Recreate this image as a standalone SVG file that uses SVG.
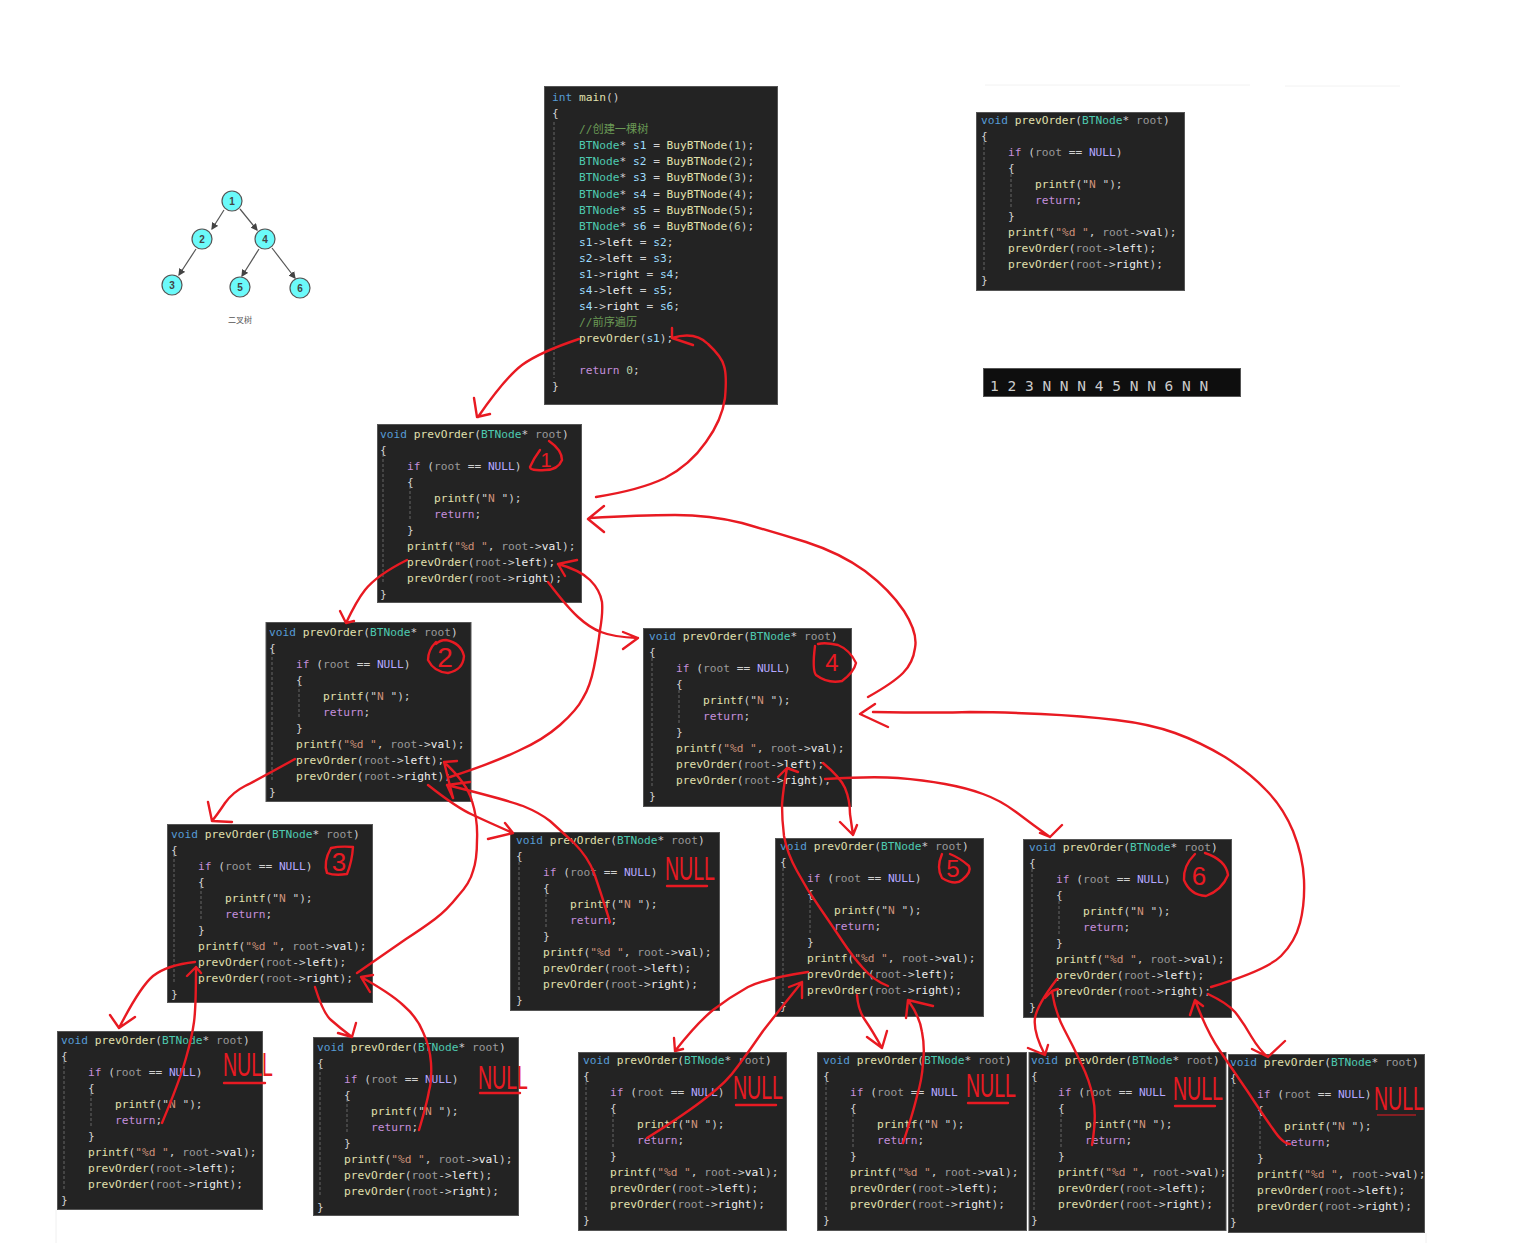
<svg xmlns="http://www.w3.org/2000/svg" width="1516" height="1243" viewBox="0 0 1516 1243">
<style>
.bg{fill:#232323;stroke:#555;stroke-width:1}
.c{font-family:"DejaVu Sans Mono","Liberation Mono","Noto Sans CJK SC",monospace;font-size:11.2px;fill:#d0d0d0}
.k{fill:#569cd6}.f{fill:#e0e0ae}.t{fill:#4ec9b0}.d{fill:#9a9a9a}.n{fill:#b4a7ff}.s{fill:#ce9178}.r{fill:#c58fdc}.v{fill:#eeeeee}.h{fill:#6a9955}.b{fill:#9cdcfe}.u{fill:#b5cea8}
.g{stroke:#666;stroke-width:1;stroke-dasharray:3 2;fill:none}
.red{fill:none;stroke:#e81a22;stroke-width:2.4;stroke-linecap:round;stroke-linejoin:round}
.nl{font-family:"Liberation Sans",Arial,sans-serif;font-size:34px;fill:#e81a22}
.cn{font-family:"Liberation Sans",Arial,sans-serif;fill:#e81a22;text-anchor:middle}
.tn{fill:#6bfafa;stroke:#555;stroke-width:1.2}
.tt{font-family:"Liberation Sans",Arial,sans-serif;font-size:10px;font-weight:bold;fill:#444;text-anchor:middle}
.tl{stroke:#555;stroke-width:1.2;fill:none;marker-end:url(#ah)}
</style>
<defs>
<marker id="ah" markerWidth="6" markerHeight="6" refX="5" refY="3" orient="auto"><path d="M0 0L6 3L0 6z" fill="#444"/></marker>
</defs>
<rect width="1516" height="1243" fill="#fff"/>
<path d="M985 85H1250M1285 86H1400" stroke="#f2f2f2" fill="none"/>
<path d="M56 1210V1243M1426 1233V1243" stroke="#f0f0f0" fill="none"/>

<g id="tree">
<g id="t1"><circle class="tn" cx="232" cy="201" r="10"/><text class="tt" x="232" y="205">1</text></g>
<g id="t2"><circle class="tn" cx="202" cy="239" r="10"/><text class="tt" x="202" y="243">2</text></g>
<g id="t4"><circle class="tn" cx="265" cy="239" r="10"/><text class="tt" x="265" y="243">4</text></g>
<g id="t3"><circle class="tn" cx="172" cy="285" r="10"/><text class="tt" x="172" y="289">3</text></g>
<g id="t5"><circle class="tn" cx="240" cy="287" r="10"/><text class="tt" x="240" y="291">5</text></g>
<g id="t6"><circle class="tn" cx="300" cy="288" r="10"/><text class="tt" x="300" y="292">6</text></g>
<text x="240" y="323" text-anchor="middle" style="font-family:'Noto Sans CJK SC',sans-serif;font-size:8px;fill:#555">二叉树</text>
</g>

<g id="main">
<rect class="bg" x="544.5" y="86.5" width="233" height="318"/>
<path class="g" d="M554 122V378"/>
<g class="c">
<text x="552" y="101"><tspan class="k">int</tspan> <tspan class="f">main</tspan>()</text>
<text x="552" y="117">{</text>
<text class="h" x="579" y="133">//创建一棵树</text>
<text x="579" y="149"><tspan class="t">BTNode</tspan>* <tspan class="b">s1</tspan> = <tspan class="f">BuyBTNode</tspan>(<tspan class="u">1</tspan>);</text>
<text x="579" y="165"><tspan class="t">BTNode</tspan>* <tspan class="b">s2</tspan> = <tspan class="f">BuyBTNode</tspan>(<tspan class="u">2</tspan>);</text>
<text x="579" y="181"><tspan class="t">BTNode</tspan>* <tspan class="b">s3</tspan> = <tspan class="f">BuyBTNode</tspan>(<tspan class="u">3</tspan>);</text>
<text x="579" y="198"><tspan class="t">BTNode</tspan>* <tspan class="b">s4</tspan> = <tspan class="f">BuyBTNode</tspan>(<tspan class="u">4</tspan>);</text>
<text x="579" y="214"><tspan class="t">BTNode</tspan>* <tspan class="b">s5</tspan> = <tspan class="f">BuyBTNode</tspan>(<tspan class="u">5</tspan>);</text>
<text x="579" y="230"><tspan class="t">BTNode</tspan>* <tspan class="b">s6</tspan> = <tspan class="f">BuyBTNode</tspan>(<tspan class="u">6</tspan>);</text>
<text x="579" y="246"><tspan class="b">s1</tspan>-&gt;<tspan class="v">left</tspan> = <tspan class="b">s2</tspan>;</text>
<text x="579" y="262"><tspan class="b">s2</tspan>-&gt;<tspan class="v">left</tspan> = <tspan class="b">s3</tspan>;</text>
<text x="579" y="278"><tspan class="b">s1</tspan>-&gt;<tspan class="v">right</tspan> = <tspan class="b">s4</tspan>;</text>
<text x="579" y="294"><tspan class="b">s4</tspan>-&gt;<tspan class="v">left</tspan> = <tspan class="b">s5</tspan>;</text>
<text x="579" y="310"><tspan class="b">s4</tspan>-&gt;<tspan class="v">right</tspan> = <tspan class="b">s6</tspan>;</text>
<text class="h" x="579" y="326">//前序遍历</text>
<text x="579" y="342"><tspan class="f">prevOrder</tspan>(<tspan class="b">s1</tspan>);</text>
<text x="579" y="374"><tspan class="r">return</tspan> <tspan class="u">0</tspan>;</text>
<text x="552" y="390">}</text>
</g>
</g>

<g id="legend" class="c" transform="translate(981,112)">
<rect class="bg" x="-4.5" y="0.5" width="208" height="178"/>
<path class="g" d="M3 30V160M30 62V96"/>
<text y="12"><tspan class="k">void</tspan> <tspan class="f">prevOrder</tspan>(<tspan class="t">BTNode</tspan>* <tspan class="d">root</tspan>)</text>
<text y="28">{</text>
<text x="27" y="44"><tspan class="r">if</tspan> (<tspan class="d">root</tspan> == <tspan class="n">NULL</tspan>)</text>
<text x="27" y="60">{</text>
<text x="54" y="76"><tspan class="f">printf</tspan>("<tspan class="s">N </tspan>");</text>
<text x="54" y="92"><tspan class="r">return</tspan>;</text>
<text x="27" y="108">}</text>
<text x="27" y="124"><tspan class="f">printf</tspan>(<tspan class="s">"%d "</tspan>, <tspan class="d">root</tspan>-&gt;<tspan class="v">val</tspan>);</text>
<text x="27" y="140"><tspan class="f">prevOrder</tspan>(<tspan class="d">root</tspan>-&gt;<tspan class="v">left</tspan>);</text>
<text x="27" y="156"><tspan class="f">prevOrder</tspan>(<tspan class="d">root</tspan>-&gt;<tspan class="v">right</tspan>);</text>
<text y="172">}</text>
</g>

<g id="console">
<rect x="983.5" y="368.5" width="257" height="28" fill="#0e0e0e" stroke="#555"/>
<text x="990" y="391" style="font-family:'DejaVu Sans Mono',monospace;font-size:14.5px;fill:#cccccc">1 2 3 N N N 4 5 N N 6 N N</text>
</g>

<g id="n1" class="c" transform="translate(380,424)">
<rect class="bg" x="-2.5" y="0.5" width="204" height="178"/>
<path class="g" d="M3 30V160M30 62V96"/>
<text y="14"><tspan class="k">void</tspan> <tspan class="f">prevOrder</tspan>(<tspan class="t">BTNode</tspan>* <tspan class="d">root</tspan>)</text>
<text y="30">{</text>
<text x="27" y="46"><tspan class="r">if</tspan> (<tspan class="d">root</tspan> == <tspan class="n">NULL</tspan>)</text>
<text x="27" y="62">{</text>
<text x="54" y="78"><tspan class="f">printf</tspan>("<tspan class="s">N </tspan>");</text>
<text x="54" y="94"><tspan class="r">return</tspan>;</text>
<text x="27" y="110">}</text>
<text x="27" y="126"><tspan class="f">printf</tspan>(<tspan class="s">"%d "</tspan>, <tspan class="d">root</tspan>-&gt;<tspan class="v">val</tspan>);</text>
<text x="27" y="142"><tspan class="f">prevOrder</tspan>(<tspan class="d">root</tspan>-&gt;<tspan class="v">left</tspan>);</text>
<text x="27" y="158"><tspan class="f">prevOrder</tspan>(<tspan class="d">root</tspan>-&gt;<tspan class="v">right</tspan>);</text>
<text y="174">}</text>
</g>

<g id="n2" class="c" transform="translate(269,622)">
<rect class="bg" x="-3" y="0.5" width="205" height="179"/>
<path class="g" d="M3 30V160M30 62V96"/>
<text y="14"><tspan class="k">void</tspan> <tspan class="f">prevOrder</tspan>(<tspan class="t">BTNode</tspan>* <tspan class="d">root</tspan>)</text>
<text y="30">{</text>
<text x="27" y="46"><tspan class="r">if</tspan> (<tspan class="d">root</tspan> == <tspan class="n">NULL</tspan>)</text>
<text x="27" y="62">{</text>
<text x="54" y="78"><tspan class="f">printf</tspan>("<tspan class="s">N </tspan>");</text>
<text x="54" y="94"><tspan class="r">return</tspan>;</text>
<text x="27" y="110">}</text>
<text x="27" y="126"><tspan class="f">printf</tspan>(<tspan class="s">"%d "</tspan>, <tspan class="d">root</tspan>-&gt;<tspan class="v">val</tspan>);</text>
<text x="27" y="142"><tspan class="f">prevOrder</tspan>(<tspan class="d">root</tspan>-&gt;<tspan class="v">left</tspan>);</text>
<text x="27" y="158"><tspan class="f">prevOrder</tspan>(<tspan class="d">root</tspan>-&gt;<tspan class="v">right</tspan>);</text>
<text y="174">}</text>
</g>

<g id="n4" class="c" transform="translate(649,628)">
<rect class="bg" x="-5.5" y="0.5" width="208" height="178"/>
<path class="g" d="M3 30V160M30 62V96"/>
<text y="12"><tspan class="k">void</tspan> <tspan class="f">prevOrder</tspan>(<tspan class="t">BTNode</tspan>* <tspan class="d">root</tspan>)</text>
<text y="28">{</text>
<text x="27" y="44"><tspan class="r">if</tspan> (<tspan class="d">root</tspan> == <tspan class="n">NULL</tspan>)</text>
<text x="27" y="60">{</text>
<text x="54" y="76"><tspan class="f">printf</tspan>("<tspan class="s">N </tspan>");</text>
<text x="54" y="92"><tspan class="r">return</tspan>;</text>
<text x="27" y="108">}</text>
<text x="27" y="124"><tspan class="f">printf</tspan>(<tspan class="s">"%d "</tspan>, <tspan class="d">root</tspan>-&gt;<tspan class="v">val</tspan>);</text>
<text x="27" y="140"><tspan class="f">prevOrder</tspan>(<tspan class="d">root</tspan>-&gt;<tspan class="v">left</tspan>);</text>
<text x="27" y="156"><tspan class="f">prevOrder</tspan>(<tspan class="d">root</tspan>-&gt;<tspan class="v">right</tspan>);</text>
<text y="172">}</text>
</g>

<g id="n3" class="c" transform="translate(171,824)">
<rect class="bg" x="-3.5" y="0.5" width="205" height="178"/>
<path class="g" d="M3 30V160M30 62V96"/>
<text y="14"><tspan class="k">void</tspan> <tspan class="f">prevOrder</tspan>(<tspan class="t">BTNode</tspan>* <tspan class="d">root</tspan>)</text>
<text y="30">{</text>
<text x="27" y="46"><tspan class="r">if</tspan> (<tspan class="d">root</tspan> == <tspan class="n">NULL</tspan>)</text>
<text x="27" y="62">{</text>
<text x="54" y="78"><tspan class="f">printf</tspan>("<tspan class="s">N </tspan>");</text>
<text x="54" y="94"><tspan class="r">return</tspan>;</text>
<text x="27" y="110">}</text>
<text x="27" y="126"><tspan class="f">printf</tspan>(<tspan class="s">"%d "</tspan>, <tspan class="d">root</tspan>-&gt;<tspan class="v">val</tspan>);</text>
<text x="27" y="142"><tspan class="f">prevOrder</tspan>(<tspan class="d">root</tspan>-&gt;<tspan class="v">left</tspan>);</text>
<text x="27" y="158"><tspan class="f">prevOrder</tspan>(<tspan class="d">root</tspan>-&gt;<tspan class="v">right</tspan>);</text>
<text y="174">}</text>
</g>

<g id="n3l" class="c" transform="translate(61,1031)">
<rect class="bg" x="-3.5" y="0.5" width="205" height="178"/>
<path class="g" d="M3 30V160M30 62V96"/>
<text y="13"><tspan class="k">void</tspan> <tspan class="f">prevOrder</tspan>(<tspan class="t">BTNode</tspan>* <tspan class="d">root</tspan>)</text>
<text y="29">{</text>
<text x="27" y="45"><tspan class="r">if</tspan> (<tspan class="d">root</tspan> == <tspan class="n">NULL</tspan>)</text>
<text x="27" y="61">{</text>
<text x="54" y="77"><tspan class="f">printf</tspan>("<tspan class="s">N </tspan>");</text>
<text x="54" y="93"><tspan class="r">return</tspan>;</text>
<text x="27" y="109">}</text>
<text x="27" y="125"><tspan class="f">printf</tspan>(<tspan class="s">"%d "</tspan>, <tspan class="d">root</tspan>-&gt;<tspan class="v">val</tspan>);</text>
<text x="27" y="141"><tspan class="f">prevOrder</tspan>(<tspan class="d">root</tspan>-&gt;<tspan class="v">left</tspan>);</text>
<text x="27" y="157"><tspan class="f">prevOrder</tspan>(<tspan class="d">root</tspan>-&gt;<tspan class="v">right</tspan>);</text>
<text y="173">}</text>
</g>

<g id="n3r" class="c" transform="translate(317,1037)">
<rect class="bg" x="-3.5" y="0.5" width="205" height="178"/>
<path class="g" d="M3 30V160M30 62V96"/>
<text y="14"><tspan class="k">void</tspan> <tspan class="f">prevOrder</tspan>(<tspan class="t">BTNode</tspan>* <tspan class="d">root</tspan>)</text>
<text y="30">{</text>
<text x="27" y="46"><tspan class="r">if</tspan> (<tspan class="d">root</tspan> == <tspan class="n">NULL</tspan>)</text>
<text x="27" y="62">{</text>
<text x="54" y="78"><tspan class="f">printf</tspan>("<tspan class="s">N </tspan>");</text>
<text x="54" y="94"><tspan class="r">return</tspan>;</text>
<text x="27" y="110">}</text>
<text x="27" y="126"><tspan class="f">printf</tspan>(<tspan class="s">"%d "</tspan>, <tspan class="d">root</tspan>-&gt;<tspan class="v">val</tspan>);</text>
<text x="27" y="142"><tspan class="f">prevOrder</tspan>(<tspan class="d">root</tspan>-&gt;<tspan class="v">left</tspan>);</text>
<text x="27" y="158"><tspan class="f">prevOrder</tspan>(<tspan class="d">root</tspan>-&gt;<tspan class="v">right</tspan>);</text>
<text y="174">}</text>
</g>

<g id="n2r" class="c" transform="translate(516,832)">
<rect class="bg" x="-5.5" y="0.5" width="209" height="178"/>
<path class="g" d="M3 30V160M30 62V96"/>
<text y="12"><tspan class="k">void</tspan> <tspan class="f">prevOrder</tspan>(<tspan class="t">BTNode</tspan>* <tspan class="d">root</tspan>)</text>
<text y="28">{</text>
<text x="27" y="44"><tspan class="r">if</tspan> (<tspan class="d">root</tspan> == <tspan class="n">NULL</tspan>)</text>
<text x="27" y="60">{</text>
<text x="54" y="76"><tspan class="f">printf</tspan>("<tspan class="s">N </tspan>");</text>
<text x="54" y="92"><tspan class="r">return</tspan>;</text>
<text x="27" y="108">}</text>
<text x="27" y="124"><tspan class="f">printf</tspan>(<tspan class="s">"%d "</tspan>, <tspan class="d">root</tspan>-&gt;<tspan class="v">val</tspan>);</text>
<text x="27" y="140"><tspan class="f">prevOrder</tspan>(<tspan class="d">root</tspan>-&gt;<tspan class="v">left</tspan>);</text>
<text x="27" y="156"><tspan class="f">prevOrder</tspan>(<tspan class="d">root</tspan>-&gt;<tspan class="v">right</tspan>);</text>
<text y="172">}</text>
</g>

<g id="n5" class="c" transform="translate(780,838)">
<rect class="bg" x="-4.5" y="0.5" width="208" height="178"/>
<path class="g" d="M3 30V160M30 62V96"/>
<text y="12"><tspan class="k">void</tspan> <tspan class="f">prevOrder</tspan>(<tspan class="t">BTNode</tspan>* <tspan class="d">root</tspan>)</text>
<text y="28">{</text>
<text x="27" y="44"><tspan class="r">if</tspan> (<tspan class="d">root</tspan> == <tspan class="n">NULL</tspan>)</text>
<text x="27" y="60">{</text>
<text x="54" y="76"><tspan class="f">printf</tspan>("<tspan class="s">N </tspan>");</text>
<text x="54" y="92"><tspan class="r">return</tspan>;</text>
<text x="27" y="108">}</text>
<text x="27" y="124"><tspan class="f">printf</tspan>(<tspan class="s">"%d "</tspan>, <tspan class="d">root</tspan>-&gt;<tspan class="v">val</tspan>);</text>
<text x="27" y="140"><tspan class="f">prevOrder</tspan>(<tspan class="d">root</tspan>-&gt;<tspan class="v">left</tspan>);</text>
<text x="27" y="156"><tspan class="f">prevOrder</tspan>(<tspan class="d">root</tspan>-&gt;<tspan class="v">right</tspan>);</text>
<text y="172">}</text>
</g>

<g id="n5l" class="c" transform="translate(583,1052)">
<rect class="bg" x="-4.5" y="0.5" width="208" height="178"/>
<path class="g" d="M3 30V160M30 62V96"/>
<text y="12"><tspan class="k">void</tspan> <tspan class="f">prevOrder</tspan>(<tspan class="t">BTNode</tspan>* <tspan class="d">root</tspan>)</text>
<text y="28">{</text>
<text x="27" y="44"><tspan class="r">if</tspan> (<tspan class="d">root</tspan> == <tspan class="n">NULL</tspan>)</text>
<text x="27" y="60">{</text>
<text x="54" y="76"><tspan class="f">printf</tspan>("<tspan class="s">N </tspan>");</text>
<text x="54" y="92"><tspan class="r">return</tspan>;</text>
<text x="27" y="108">}</text>
<text x="27" y="124"><tspan class="f">printf</tspan>(<tspan class="s">"%d "</tspan>, <tspan class="d">root</tspan>-&gt;<tspan class="v">val</tspan>);</text>
<text x="27" y="140"><tspan class="f">prevOrder</tspan>(<tspan class="d">root</tspan>-&gt;<tspan class="v">left</tspan>);</text>
<text x="27" y="156"><tspan class="f">prevOrder</tspan>(<tspan class="d">root</tspan>-&gt;<tspan class="v">right</tspan>);</text>
<text y="172">}</text>
</g>

<g id="n5r" class="c" transform="translate(823,1052)">
<rect class="bg" x="-5.5" y="0.5" width="209" height="178"/>
<path class="g" d="M3 30V160M30 62V96"/>
<text y="12"><tspan class="k">void</tspan> <tspan class="f">prevOrder</tspan>(<tspan class="t">BTNode</tspan>* <tspan class="d">root</tspan>)</text>
<text y="28">{</text>
<text x="27" y="44"><tspan class="r">if</tspan> (<tspan class="d">root</tspan> == <tspan class="n">NULL</tspan></text>
<text x="27" y="60">{</text>
<text x="54" y="76"><tspan class="f">printf</tspan>("<tspan class="s">N </tspan>");</text>
<text x="54" y="92"><tspan class="r">return</tspan>;</text>
<text x="27" y="108">}</text>
<text x="27" y="124"><tspan class="f">printf</tspan>(<tspan class="s">"%d "</tspan>, <tspan class="d">root</tspan>-&gt;<tspan class="v">val</tspan>);</text>
<text x="27" y="140"><tspan class="f">prevOrder</tspan>(<tspan class="d">root</tspan>-&gt;<tspan class="v">left</tspan>);</text>
<text x="27" y="156"><tspan class="f">prevOrder</tspan>(<tspan class="d">root</tspan>-&gt;<tspan class="v">right</tspan>);</text>
<text y="172">}</text>
</g>

<g id="n6" class="c" transform="translate(1029,839)">
<rect class="bg" x="-5.5" y="0.5" width="208" height="178"/>
<path class="g" d="M3 30V160M30 62V96"/>
<text y="12"><tspan class="k">void</tspan> <tspan class="f">prevOrder</tspan>(<tspan class="t">BTNode</tspan>* <tspan class="d">root</tspan>)</text>
<text y="28">{</text>
<text x="27" y="44"><tspan class="r">if</tspan> (<tspan class="d">root</tspan> == <tspan class="n">NULL</tspan>)</text>
<text x="27" y="60">{</text>
<text x="54" y="76"><tspan class="f">printf</tspan>("<tspan class="s">N </tspan>");</text>
<text x="54" y="92"><tspan class="r">return</tspan>;</text>
<text x="27" y="108">}</text>
<text x="27" y="124"><tspan class="f">printf</tspan>(<tspan class="s">"%d "</tspan>, <tspan class="d">root</tspan>-&gt;<tspan class="v">val</tspan>);</text>
<text x="27" y="140"><tspan class="f">prevOrder</tspan>(<tspan class="d">root</tspan>-&gt;<tspan class="v">left</tspan>);</text>
<text x="27" y="156"><tspan class="f">prevOrder</tspan>(<tspan class="d">root</tspan>-&gt;<tspan class="v">right</tspan>);</text>
<text y="172">}</text>
</g>

<g id="n6l" class="c" transform="translate(1031,1052)">
<rect class="bg" x="-2" y="0.5" width="197" height="178"/>
<path class="g" d="M3 30V160M30 62V96"/>
<text y="12"><tspan class="k">void</tspan> <tspan class="f">prevOrder</tspan>(<tspan class="t">BTNode</tspan>* <tspan class="d">root</tspan>)</text>
<text y="28">{</text>
<text x="27" y="44"><tspan class="r">if</tspan> (<tspan class="d">root</tspan> == <tspan class="n">NULL</tspan></text>
<text x="27" y="60">{</text>
<text x="54" y="76"><tspan class="f">printf</tspan>("<tspan class="s">N </tspan>");</text>
<text x="54" y="92"><tspan class="r">return</tspan>;</text>
<text x="27" y="108">}</text>
<text x="27" y="124"><tspan class="f">printf</tspan>(<tspan class="s">"%d "</tspan>, <tspan class="d">root</tspan>-&gt;<tspan class="v">val</tspan>);</text>
<text x="27" y="140"><tspan class="f">prevOrder</tspan>(<tspan class="d">root</tspan>-&gt;<tspan class="v">left</tspan>);</text>
<text x="27" y="156"><tspan class="f">prevOrder</tspan>(<tspan class="d">root</tspan>-&gt;<tspan class="v">right</tspan>);</text>
<text y="172">}</text>
</g>

<g id="n6r" class="c" transform="translate(1230,1054)">
<rect class="bg" x="-1.5" y="0.5" width="196" height="178"/>
<path class="g" d="M3 30V160M30 62V96"/>
<text y="12"><tspan class="k">void</tspan> <tspan class="f">prevOrder</tspan>(<tspan class="t">BTNode</tspan>* <tspan class="d">root</tspan>)</text>
<text y="28">{</text>
<text x="27" y="44"><tspan class="r">if</tspan> (<tspan class="d">root</tspan> == <tspan class="n">NULL</tspan>)</text>
<text x="27" y="60">{</text>
<text x="54" y="76"><tspan class="f">printf</tspan>("<tspan class="s">N </tspan>");</text>
<text x="54" y="92"><tspan class="r">return</tspan>;</text>
<text x="27" y="108">}</text>
<text x="27" y="124"><tspan class="f">printf</tspan>(<tspan class="s">"%d "</tspan>, <tspan class="d">root</tspan>-&gt;<tspan class="v">val</tspan>);</text>
<text x="27" y="140"><tspan class="f">prevOrder</tspan>(<tspan class="d">root</tspan>-&gt;<tspan class="v">left</tspan>);</text>
<text x="27" y="156"><tspan class="f">prevOrder</tspan>(<tspan class="d">root</tspan>-&gt;<tspan class="v">right</tspan>);</text>
<text y="172">}</text>
</g>

<g id="annotations">
<text class="nl" x="223" y="1076" textLength="50" lengthAdjust="spacingAndGlyphs">NULL</text>
<text class="nl" x="478" y="1089" textLength="50" lengthAdjust="spacingAndGlyphs">NULL</text>
<text class="nl" x="665" y="880" textLength="50" lengthAdjust="spacingAndGlyphs">NULL</text>
<text class="nl" x="733" y="1099" textLength="50" lengthAdjust="spacingAndGlyphs">NULL</text>
<text class="nl" x="966" y="1097" textLength="50" lengthAdjust="spacingAndGlyphs">NULL</text>
<text class="nl" x="1173" y="1100" textLength="50" lengthAdjust="spacingAndGlyphs">NULL</text>
<text class="nl" x="1374" y="1110" textLength="50" lengthAdjust="spacingAndGlyphs">NULL</text>
<path class="red" d="M224 1083H265M480 1093H520M667 886H707M736 1105H776M968 1103H1008M1175 1106H1215"/>
<path d="M1377 1115H1416" stroke="#e81a22" fill="none"/>
<text class="cn" x="546" y="467" font-size="20">1</text>
<path class="red" d="M549 441Q562 450 562 460Q558 470 545 470Q530 471 530 467Q534 458 540 450"/>
<text class="cn" x="445" y="667" font-size="28">2</text>
<path class="red" d="M436 642Q428 650 428 660Q434 672 448 673Q463 670 464 656Q461 643 446 640Q440 640 436 644"/>
<text class="cn" x="339" y="871" font-size="26">3</text>
<path class="red" d="M331 848Q340 846 353 847Q352 862 347 874Q335 876 327 873Q323 862 331 848"/>
<text class="cn" x="832" y="671" font-size="24">4</text>
<path class="red" d="M815 646Q812 670 816 675Q828 684 842 681Q854 672 856 663Q850 650 838 645Q825 642 818 644"/>
<text class="cn" x="953" y="877" font-size="24">5</text>
<path class="red" d="M942 854Q936 868 942 878Q955 886 962 880Q972 872 969 866Q960 858 950 854"/>
<text class="cn" x="1199" y="885" font-size="26">6</text>
<path class="red" d="M1195 854Q1183 866 1184 880Q1190 895 1206 896Q1222 890 1228 875Q1226 860 1205 853"/>
</g>

<g id="connectors">
<path class="tl" d="M224 210L212 229"/>
<path class="tl" d="M240 209L257 230"/>
<path class="tl" d="M196 249L179 275"/>
<path class="tl" d="M259 249L242 276"/>
<path class="tl" d="M272 248L295 278"/>
<path class="red" d="M579 339Q540 352 522 365Q505 378 478 417M474 398L477 417L490 414"/>
<path class="red" d="M672 338Q695 331 708 344Q722 357 724 366Q727 375 725 398Q722 420 706 442Q690 465 665 478Q640 490 596 497M672 328L672 338L693 345"/>
<path class="red" d="M590 518Q640 515 675 515Q710 515 742 523Q773 532 806 542Q840 553 865 571Q890 590 904 611Q918 633 915 648Q913 663 903 673Q893 683 868 697M604 506L588 519L604 532"/>
<path class="red" d="M407 560Q377 575 365 590Q357 600 346 623M340 611L346 623L354 621"/>
<path class="red" d="M548 582Q567 607 578 617Q590 628 601 632Q613 637 638 638M623 632L638 638L623 649"/>
<path class="red" d="M558 564Q580 570 590 580Q600 590 602 602Q603 613 600 630Q598 647 594 667Q590 687 583 698Q577 710 560 725Q543 740 518 751Q493 763 450 777M577 560L558 564L565 576"/>
<path class="red" d="M295 759Q257 780 245 786Q233 792 225 803Q217 815 212 821M208 802L212 821L232 822"/>
<path class="red" d="M428 785Q457 808 473 815Q490 823 513 833M505 823L513 833L488 839"/>
<path class="red" d="M447 785Q507 800 523 806Q540 813 550 821Q560 830 574 843Q588 857 594 873Q600 890 610 922M470 782L447 785L453 798"/>
<path class="red" d="M444 762Q467 783 472 801Q478 820 477 840Q477 860 473 871Q470 883 458 896Q447 910 435 919Q423 928 406 939Q390 950 357 973M457 761L444 762L453 798"/>
<path class="red" d="M195 962Q167 965 153 976Q140 987 119 1028M110 1015L119 1028L135 1017"/>
<path class="red" d="M196 967Q196 1007 194 1022Q192 1037 186 1058Q180 1080 162 1123M187 976L196 967L201 973"/>
<path class="red" d="M315 987Q323 1013 331 1020Q340 1028 352 1037M338 1033L352 1037L356 1023"/>
<path class="red" d="M361 977Q390 993 403 1005Q417 1017 423 1032Q430 1047 431 1063Q432 1080 429 1091Q427 1103 419 1130M373 975L361 977L370 992"/>
<path class="red" d="M823 763Q840 777 845 788Q850 800 850 814L853 835M840 822L853 835L857 825"/>
<path class="red" d="M825 779Q873 776 898 778Q923 780 945 784Q967 788 983 794Q1000 800 1016 812Q1033 825 1050 837M1040 833L1050 837L1062 825"/>
<path class="red" d="M787 768Q783 790 782 805Q782 820 784 836Q787 853 797 871Q807 890 820 908Q833 927 843 942Q853 957 863 968Q873 980 888 986M798 772L787 768L778 777"/>
<path class="red" d="M808 972Q767 978 748 987Q730 997 713 1010Q697 1023 675 1051M674 1038L675 1051L683 1049"/>
<path class="red" d="M802 982Q777 1013 763 1031Q750 1050 738 1066Q727 1082 707 1097Q687 1113 647 1138M789 987L802 982L802 998"/>
<path class="red" d="M857 995Q858 1010 865 1020Q872 1030 882 1048M867 1037L882 1048L887 1031"/>
<path class="red" d="M908 1000Q920 1017 922 1032Q925 1047 923 1063Q922 1080 917 1096Q913 1113 903 1143M933 1006L908 1000L906 1018"/>
<path class="red" d="M1057 979Q1037 1005 1035 1018Q1033 1032 1045 1055M1028 1048L1045 1055L1048 1045"/>
<path class="red" d="M1052 991Q1055 1012 1064 1029Q1073 1046 1081 1063Q1090 1081 1093 1098Q1097 1115 1092 1145M1045 998L1052 991L1058 989"/>
<path class="red" d="M1208 994Q1227 1003 1235 1012Q1243 1022 1251 1036Q1260 1051 1268 1057M1252 1049L1268 1057L1285 1041"/>
<path class="red" d="M1195 1000Q1207 1032 1220 1051Q1233 1070 1248 1092Q1263 1115 1273 1129Q1283 1144 1290 1144M1190 1015L1195 1000L1203 1006"/>
<path class="red" d="M1211 987Q1267 970 1281 956Q1295 942 1300 923Q1305 904 1304 880Q1303 856 1293 831Q1283 807 1266 790Q1250 773 1225 757Q1200 742 1175 733Q1150 724 1116 720Q1083 716 1041 714Q1000 712 970 712Q940 713 873 712M875 704L860 714L888 727"/>
</g>
</svg>
